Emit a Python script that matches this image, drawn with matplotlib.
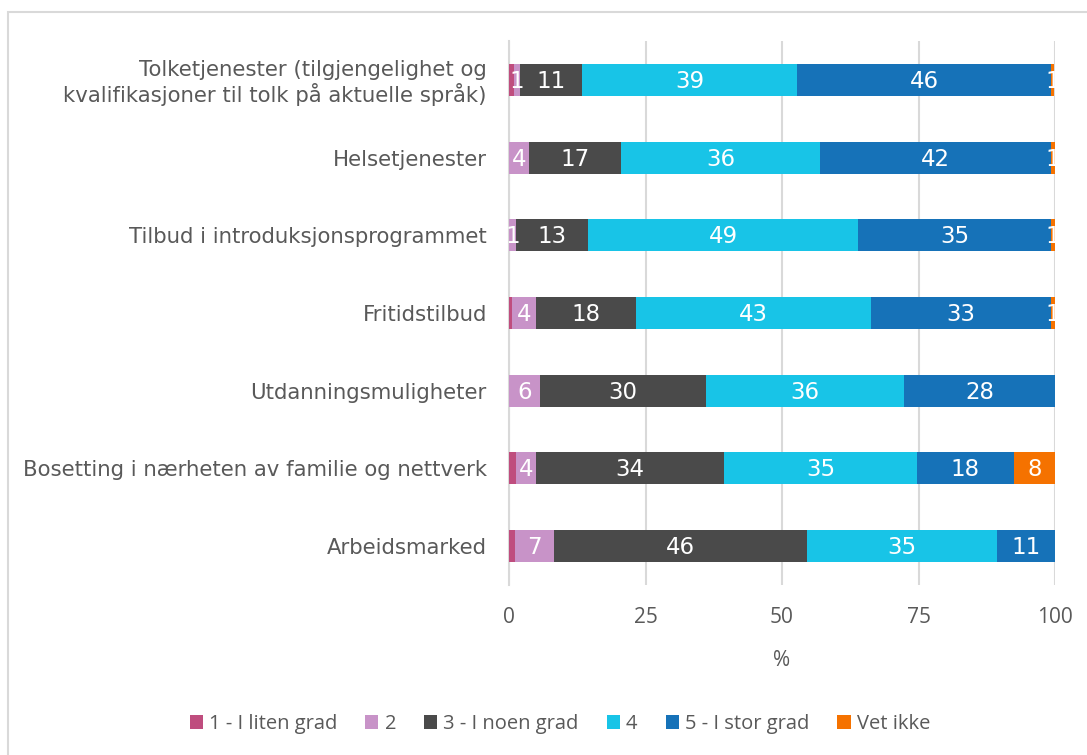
import matplotlib.pyplot as plt
import numpy as np
from matplotlib.patches import Rectangle

# categories (top to bottom)
categories = [
    "Tolketjenester (tilgjengelighet og\nkvalifikasjoner til tolk på aktuelle språk)",
    "Helsetjenester",
    "Tilbud i introduksjonsprogrammet",
    "Fritidstilbud",
    "Utdanningsmuligheter",
    "Bosetting i nærheten av familie og nettverk",
    "Arbeidsmarked",
]

series_names = ["1 - I liten grad", "2", "3 - I noen grad", "4", "5 - I stor grad", "Vet ikke"]

# percent values per answer, same order as categories
liten = [1.0, 0.0, 0.0, 0.5, 0.0, 1.2, 1.1]
to = [1.0, 3.6, 1.3, 4.4, 5.6, 3.8, 7.2]
noen = [11.4, 17.0, 13.2, 18.4, 30.4, 34.4, 46.2]
fire = [39.4, 36.4, 49.4, 43.0, 36.4, 35.4, 34.8]
stor = [46.4, 42.3, 35.4, 32.9, 27.6, 17.6, 10.7]
vet_ikke = [0.7, 0.7, 0.7, 0.8, 0.0, 7.6, 0.0]

colors = ["#BF4D7E", "#C893C8", "#4A4A4A", "#18C4E7", "#1672B8", "#F57200"]
text_col = "#595959"
grid_col = "#D9D9D9"

series = [liten, to, noen, fire, stor, vet_ikke]

fig = plt.figure(figsize=(10.87, 7.55), dpi=100)
ax = fig.add_axes([509 / 1087, 1 - 585 / 755, (1055 - 509) / 1087, (585 - 41) / 755])

y = np.arange(len(categories))
left = np.zeros(len(categories))
for i, (vals, col, name) in enumerate(zip(series, colors, series_names)):
    vals = np.array(vals)
    bars = ax.barh(y, vals, left=left, height=0.41, color=col, label=name, zorder=3)
    for b, v in zip(bars, vals):
        # first series labels are not shown in the original
        if i == 0 or v < 0.6:
            continue
        ax.text(b.get_x() + b.get_width() / 2, b.get_y() + b.get_height() / 2 + 0.02,
                "%.0f" % v, ha="center", va="center", color="white",
                fontsize=16.5, family="DejaVu Sans", zorder=4)
    left += vals

ax.set_xlim(0, 100)
ax.set_ylim(len(categories) - 0.5, -0.5)
ax.set_xticks([0, 25, 50, 75, 100])
ax.set_yticks(y)
ax.set_yticklabels(categories, fontsize=15.3, color=text_col, family="DejaVu Sans",
                   linespacing=1.15)
ax.tick_params(axis="x", length=0, labelsize=15, labelcolor=text_col, pad=16)
ax.tick_params(axis="y", length=0, pad=16)
for lab in ax.get_xticklabels():
    lab.set_family("Open Sans")
ax.set_xlabel("%", fontsize=15, color=text_col, family="Open Sans", labelpad=16)
ax.grid(axis="x", color=grid_col, linewidth=1.5, zorder=0)
for s in ["top", "right", "bottom"]:
    ax.spines[s].set_visible(False)
ax.spines["left"].set_color(grid_col)
ax.spines["left"].set_linewidth(1.5)

leg = fig.legend(loc="center", bbox_to_anchor=(0.515, 1 - 724 / 755), ncol=6,
                 frameon=False, handlelength=0.65, handleheight=0.65,
                 handletextpad=0.3, columnspacing=1.4,
                 prop={"family": "Open Sans", "size": 14.5})
for t in leg.get_texts():
    t.set_color(text_col)

# chart area border (top and left edges visible)
fig.patches.append(Rectangle((8 / 1087, -0.1), 1.2, 1 - 12 / 755 + 0.1,
                             transform=fig.transFigure, fill=False,
                             edgecolor=grid_col, linewidth=1.5))

fig.savefig("out.png", dpi=100)
